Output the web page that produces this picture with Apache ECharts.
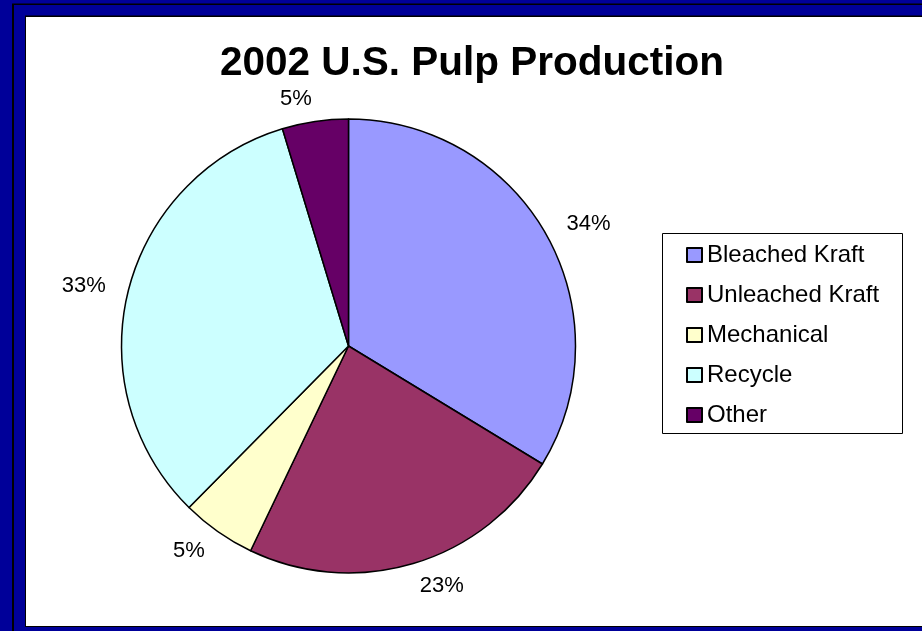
<!DOCTYPE html>
<html>
<head>
<meta charset="utf-8">
<script src="https://cdn.jsdelivr.net/npm/echarts@6/dist/echarts.min.js"></script>
<style>
html,body{margin:0;padding:0;background:#fff;}
#chart{width:922px;height:631px;}
</style>
</head>
<body>
<div id="chart"></div>
<script>
const titleText = '2002 U.S. Pulp Production';
const categories = ['Bleached Kraft', 'Unleached Kraft', 'Mechanical', 'Recycle', 'Other'];
const values = [33.7, 23.4, 5.3, 32.9, 4.7];
const colors = ['#9999FF', '#993366', '#FFFFCC', '#CCFFFF', '#660066'];

const chart = echarts.init(document.getElementById('chart'), null, {renderer: 'canvas'});
const FONT = '"Liberation Sans", Arial, sans-serif';

chart.setOption({
  animation: false,
  backgroundColor: '#ffffff',
  graphic: [
    {type: 'rect', z: -10, silent: true, shape: {x: 0, y: 0, width: 922, height: 631}, style: {fill: '#000099'}},
    {type: 'rect', z: -9, silent: true, shape: {x: 12, y: 3.5, width: 920, height: 640}, style: {fill: '#000000'}},
    {type: 'rect', z: -8, silent: true, shape: {x: 14, y: 5, width: 920, height: 640}, style: {fill: '#000099'}},
    {type: 'rect', z: -7, silent: true, shape: {x: 25, y: 15.5, width: 910, height: 611.5}, style: {fill: '#000000'}},
    {type: 'rect', z: -6, silent: true, shape: {x: 26, y: 17, width: 900, height: 609}, style: {fill: '#ffffff'}},
    {type: 'rect', z: -5, silent: true, shape: {x: 662.5, y: 233.5, width: 240, height: 200}, style: {fill: '#ffffff', stroke: '#000000', lineWidth: 1}},
    {type: 'text', z: 5, silent: true, x: 472, y: 64, style: {text: titleText, font: 'bold 40.5px ' + FONT, fill: '#000', align: 'center', verticalAlign: 'middle'}}
  ],
  legend: {
    orient: 'vertical',
    left: 681,
    top: 237,
    icon: 'rect',
    itemWidth: 15,
    itemHeight: 14,
    itemGap: 14,
    textStyle: {fontFamily: FONT, fontSize: 24, color: '#000', lineHeight: 26},
    data: categories
  },
  series: [{
    type: 'pie',
    center: [348.5, 346],
    radius: 227,
    startAngle: 90,
    clockwise: true,
    avoidLabelOverlap: false,
    itemStyle: {borderColor: '#000', borderWidth: 1.5},
    label: {
      show: true,
      position: 'outside',
      fontFamily: FONT,
      fontSize: 22,
      color: '#000',
      distanceToLabelLine: 0,
      formatter: p => Math.round(p.percent) + '%'
    },
    labelLine: {show: false, length: 23, length2: 0},
    emphasis: {disabled: true},
    data: categories.map((c, i) => ({name: c, value: values[i], itemStyle: {color: colors[i]}}))
  }]
});
</script>
</body>
</html>
